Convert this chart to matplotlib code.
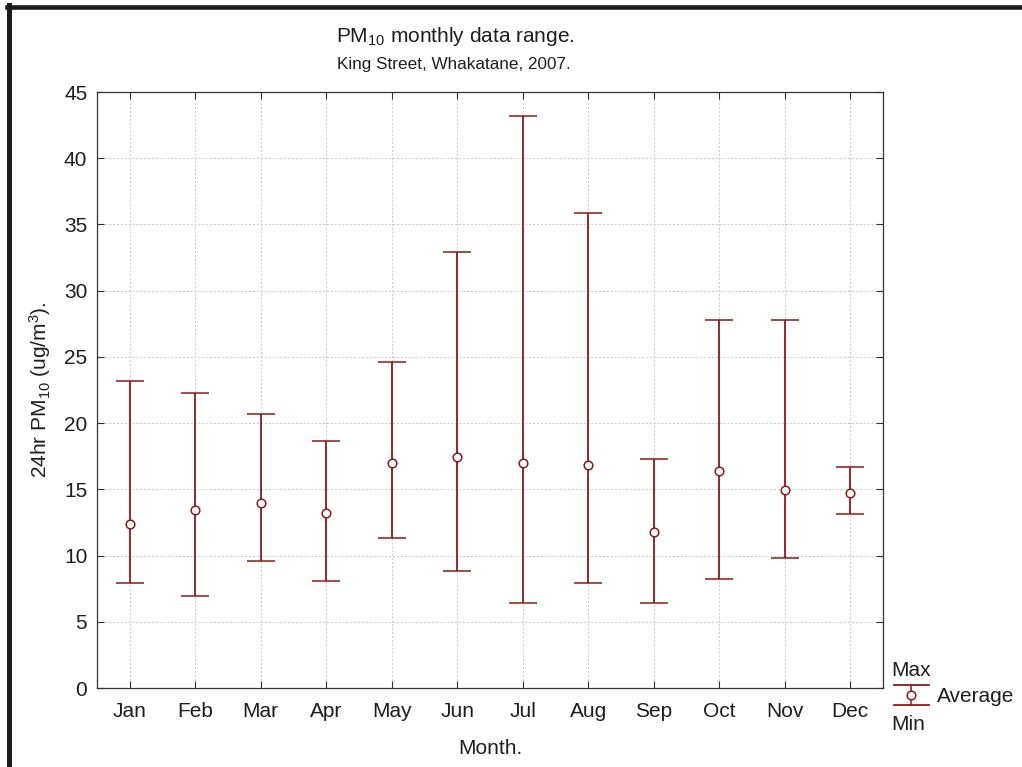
import matplotlib
matplotlib.use("Agg")
import matplotlib.pyplot as plt
from matplotlib.lines import Line2D
import numpy as np

plt.rcParams['font.family'] = ['Liberation Sans', 'DejaVu Sans']
plt.rcParams['mathtext.fontset'] = 'custom'
plt.rcParams['mathtext.rm'] = 'Liberation Sans'
plt.rcParams['mathtext.it'] = 'Liberation Sans:italic'
plt.rcParams['text.color'] = '#1e1e1e'
plt.rcParams['axes.labelcolor'] = '#1e1e1e'
plt.rcParams['xtick.labelcolor'] = '#1e1e1e'
plt.rcParams['ytick.labelcolor'] = '#1e1e1e'

months = ["Jan", "Feb", "Mar", "Apr", "May", "Jun",
          "Jul", "Aug", "Sep", "Oct", "Nov", "Dec"]
pm_max = [23.2, 22.3, 20.7, 18.65, 24.6, 32.9, 43.2, 35.9, 17.3, 27.8, 27.8, 16.7]
pm_avg = [12.4, 13.45, 14.0, 13.2, 17.0, 17.45, 17.0, 16.8, 11.8, 16.4, 14.95, 14.75]
pm_min = [7.95, 6.95, 9.6, 8.05, 11.35, 8.85, 6.4, 7.95, 6.45, 8.25, 9.85, 13.15]
y_ticks = [0, 5, 10, 15, 20, 25, 30, 35, 40, 45]

W, H = 1022, 767
RED = "#8b1a1a"
FS = 15

fig = plt.figure(figsize=(W / 100, H / 100), dpi=100)
ax = fig.add_axes([97 / W, (H - 688) / H, (883 - 97) / W, (688 - 92) / H])

x = np.arange(1, len(months) + 1)
avg = np.array(pm_avg)
lo = avg - np.array(pm_min)
hi = np.array(pm_max) - avg
ax.errorbar(x, avg, yerr=[lo, hi], fmt='o', color=RED, ecolor=RED,
            elinewidth=1.3, capsize=9.8, capthick=1.3,
            markersize=6.2, markerfacecolor='white', markeredgecolor=RED,
            markeredgewidth=1.1, zorder=3)

ax.set_xlim(0.5, 12.5)
ax.set_ylim(0, 45)
ax.set_xticks(x)
ax.set_xticklabels(months)
ax.set_yticks(y_ticks)
ax.tick_params(direction='in', length=5, width=0.8, color='#333333',
               labelsize=FS, top=True, right=True)
ax.tick_params(axis='x', pad=10)
ax.tick_params(axis='y', pad=7)
ax.grid(True, color='#c8c8c8', linestyle=(0, (2, 2)), linewidth=0.7, zorder=0)
for s in ax.spines.values():
    s.set_linewidth(0.9)
    s.set_color('#333333')

ax.set_xlabel("Month.", fontsize=FS, labelpad=13)
ax.set_ylabel(r"24hr PM$_{10}$ (ug/m$^3$).", fontsize=FS, labelpad=8)

fig.text(455 / W, 1 - 37 / H, r"PM$_{10}$ monthly data range.", ha='center',
         va='center', fontsize=FS)
fig.text(454 / W, 1 - 64 / H, "King Street, Whakatane, 2007.", ha='center',
         va='center', fontsize=12.3)

# legend glyph: max cap, average circle, min cap
def fx(px):
    return px / W

def fy(py):
    return 1 - py / H

lx0, lx1, lxc = 894, 929, 911
fig.add_artist(Line2D([fx(lx0), fx(lx1)], [fy(685), fy(685)], color=RED, lw=1.3))
fig.add_artist(Line2D([fx(lx0), fx(lx1)], [fy(705), fy(705)], color=RED, lw=1.3))
fig.add_artist(Line2D([fx(lxc), fx(lxc)], [fy(685), fy(705)], color=RED, lw=1.1))
fig.add_artist(Line2D([fx(lxc)], [fy(695)], marker='o', markersize=6.2,
                      markerfacecolor='white', markeredgecolor=RED,
                      markeredgewidth=1.1, linestyle='none'))
fig.text(fx(891), fy(671), "Max", fontsize=FS, va='center', ha='left')
fig.text(fx(891), fy(724), "Min", fontsize=FS, va='center', ha='left')
fig.text(fx(937), fy(697), "Average", fontsize=FS, va='center', ha='left')

# outer frame (top and left edges)
fig.add_artist(Line2D([fx(7), fx(W)], [fy(7.2), fy(7.2)], color='#1a1a1a', lw=3.3))
fig.add_artist(Line2D([fx(9.2), fx(9.2)], [fy(5), fy(H)], color='#1a1a1a', lw=3.6))

fig.savefig("out.png", dpi=100)
